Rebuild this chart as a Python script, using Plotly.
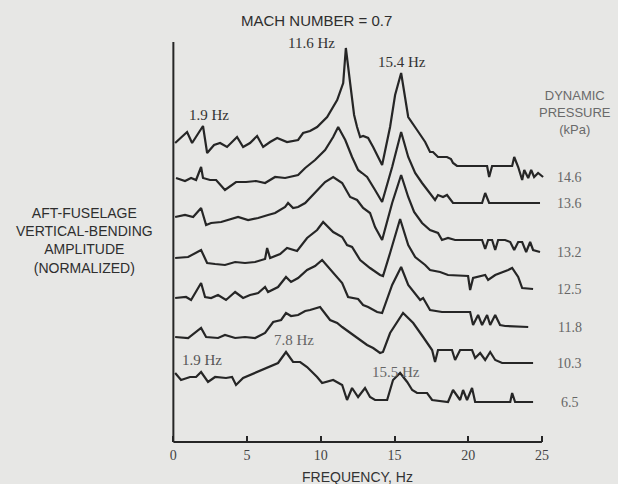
import plotly.graph_objects as go

# ---- data: spectra (frequency in Hz, normalized amplitude) ----
freq_14_6 = [0.12, 0.93, 1.27, 2.01, 2.29, 2.76, 3.17, 3.64, 4.32, 4.73, 5.2, 5.68, 6.09, 6.56, 7.04, 7.71, 8.46, 8.8, 9.27, 9.75,
             10.43, 11.11, 11.52, 11.7, 11.99, 12.26, 12.46, 12.67, 12.87, 13.21, 13.55, 14.16, 14.7, 15.04, 15.45, 15.93, 16.53, 17.08, 17.41, 17.61,
             17.95, 18.56, 18.83, 18.97, 19.24, 21.28, 21.42, 21.62, 22.98, 23.12, 23.39, 23.66, 23.8, 24.07, 24.27, 24.47, 24.74, 25.08]
amp_14_6 = [29, 40, 29, 46, 19, 27, 29, 25, 35, 25, 29, 36, 25, 30, 34, 30, 32, 39, 41, 45,
            55, 72, 89, 124, 89, 57, 45, 35, 36, 34, 25, 7, 45, 77, 99, 55, 42, 30, 20, 20,
            15, 15, 13, 9, 6, 6, -5, 6, 6, 15, 5, -8, 2, -6, 2, -5, -1, -5]

freq_13_6 = [0.18, 0.79, 1.2, 1.54, 1.88, 2.01, 2.49, 2.9, 3.5, 4.25, 4.93, 5.61, 6.22, 6.9, 7.58, 8.46, 8.94, 9.61, 10.29, 10.84,
             11.18, 11.66, 12.12, 12.53, 12.8, 13.14, 13.68, 14.16, 14.84, 15.45, 15.93, 16.4, 16.87, 17.41, 17.75, 17.95, 18.29, 18.56, 18.97, 20.94,
             21.15, 21.42, 24.87]
amp_13_6 = [29, 26, 29, 27, 40, 29, 27, 27, 17, 25, 25, 26, 24, 30, 29, 32, 39, 47, 57, 70,
            80, 67, 50, 37, 34, 30, 17, 5, 40, 75, 50, 34, 24, 14, 7, 12, 10, 12, 4, 4,
            14, 4, 4]

freq_13_2 = [0.12, 0.79, 1.34, 1.88, 2.22, 2.56, 3.24, 3.71, 4.39, 5.07, 5.75, 6.42, 6.9, 7.58, 7.78, 8.12, 8.46, 8.94, 9.61, 10.29,
             10.84, 11.45, 11.99, 12.46, 12.87, 13.34, 13.68, 14.16, 14.84, 15.45, 15.93, 16.33, 16.87, 17.41, 17.95, 18.22, 18.63, 19.11, 20.94, 21.15,
             21.35, 21.62, 21.83, 22.03, 22.5, 22.85, 23.12, 23.39, 23.66, 23.93, 24.2, 24.4, 24.87]
amp_13_2 = [35, 37, 35, 44, 27, 29, 30, 32, 35, 32, 34, 37, 39, 45, 49, 44, 45, 49, 59, 70,
            75, 69, 55, 52, 44, 39, 25, 12, 49, 77, 55, 40, 29, 22, 19, 12, 14, 12, 12, 3,
            12, 12, 2, 12, 12, 10, 2, 10, 10, 0, 10, 2, 0]

freq_12_5 = [0.12, 1.0, 1.88, 2.29, 2.83, 3.5, 4.19, 4.86, 5.54, 6.22, 6.36, 6.56, 7.24, 7.71, 8.39, 9.07, 9.75, 10.16, 10.84, 11.45,
             11.78, 12.12, 12.67, 13.34, 14.02, 14.22, 14.7, 15.38, 15.93, 16.4, 17.08, 17.41, 18.09, 18.63, 19.99, 20.13, 20.33, 21.15, 21.35, 21.83,
             22.71, 22.98, 23.39, 23.66, 24.4]
amp_12_5 = [34, 35, 42, 29, 28, 27, 30, 29, 30, 33, 44, 34, 38, 44, 41, 54, 62, 70, 60, 55,
            47, 45, 32, 24, 17, 16, 39, 73, 47, 35, 27, 22, 20, 17, 16, 2, 14, 17, 12, 17,
            22, 24, 15, 4, 3]

freq_11_8 = [0.12, 0.86, 1.2, 1.88, 2.15, 2.56, 3.03, 3.57, 4.19, 4.73, 5.2, 5.75, 6.22, 6.42, 7.1, 7.64, 7.98, 8.46, 9.07, 9.61,
             10.09, 10.97, 11.45, 11.85, 12.19, 12.53, 12.87, 13.21, 13.82, 14.16, 14.84, 15.45, 15.93, 16.53, 16.74, 16.94, 17.41, 18.22, 20.13, 20.33,
             20.67, 20.94, 21.28, 21.49, 21.83, 22.16, 22.5, 24.07]
amp_11_8 = [29, 30, 27, 44, 30, 29, 32, 27, 35, 29, 32, 34, 40, 35, 40, 50, 45, 49, 57, 61,
            67, 52, 44, 30, 29, 28, 22, 20, 15, 14, 42, 60, 42, 30, 27, 29, 17, 15, 15, 2,
            12, 2, 12, 2, 12, 2, 1, 0]

freq_10_3 = [0.12, 1.0, 1.88, 2.22, 3.03, 3.5, 4.19, 4.86, 5.54, 6.22, 6.77, 7.31, 7.64, 7.98, 8.46, 8.94, 9.27, 9.95, 10.63, 11.11,
             11.45, 12.19, 13.14, 13.55, 14.02, 14.22, 14.7, 15.58, 16.27, 16.94, 17.55, 17.75, 17.95, 18.9, 19.11, 19.45, 20.26, 20.47, 20.81, 21.15,
             21.49, 21.83, 22.3, 24.4]
amp_10_3 = [25, 24, 34, 25, 24, 27, 24, 25, 24, 29, 40, 42, 49, 46, 47, 51, 52, 55, 42, 39,
            35, 27, 17, 14, 9, 10, 29, 49, 39, 25, 12, 0, 12, 12, 2, 12, 12, 4, 9, 2,
            10, 2, -1, -1]

freq_6_5 = [0.12, 0.52, 1.13, 1.54, 1.88, 2.35, 2.83, 3.57, 3.98, 4.25, 4.73, 5.54, 6.42, 7.1, 7.64, 8.12, 8.6, 9.07, 9.75, 10.09,
            10.84, 11.45, 11.78, 12.12, 12.53, 13.0, 13.34, 13.68, 14.5, 14.9, 15.38, 15.86, 16.2, 16.53, 17.21, 17.55, 18.63, 18.97, 19.45, 19.65,
            19.92, 20.26, 20.47, 22.85, 22.98, 23.18, 24.4]
amp_6_5 = [29, 22, 25, 25, 30, 20, 25, 24, 25, 17, 24, 29, 34, 39, 50, 40, 40, 35, 25, 19,
           22, 17, 2, 14, 5, 14, 5, 2, 2, 22, 29, 20, 12, 9, 9, 2, 0, 12, 2, 12,
           2, 14, 0, 0, 9, 0, 0]

dynamic_pressure_labels = ["14.6", "13.6", "13.2", "12.5", "11.8", "10.3", "6.5"]
spectra_freq = [freq_14_6, freq_13_6, freq_13_2, freq_12_5, freq_11_8, freq_10_3, freq_6_5]
spectra_amp = [amp_14_6, amp_13_6, amp_13_2, amp_12_5, amp_11_8, amp_10_3, amp_6_5]

x_tick_values = [0, 5, 10, 15, 20, 25]

# waterfall stacking (layout, not data)
stack_offset = [270, 235, 190, 150, 115, 80, 40]

LINE = "#262626"
BG = "#e7e7e5"
SANS = "Liberation Sans, Arial, sans-serif"
SERIF = "Liberation Serif, Times New Roman, serif"

fig = go.Figure()
for lab, fr, am, off in zip(dynamic_pressure_labels, spectra_freq, spectra_amp, stack_offset):
    fig.add_trace(go.Scatter(x=fr, y=[v + off for v in am], mode="lines",
                             line=dict(color=LINE, width=2.2), hoverinfo="skip",
                             showlegend=False, name=lab))
    fig.add_annotation(x=26.9, y=off + am[-1], text=lab, showarrow=False,
                       font=dict(family=SERIF, size=14, color="#666666"),
                       xanchor="center", yanchor="middle")

def note(x, y, text, size, color, family, ref="data"):
    kw = dict(xref="paper", yref="paper") if ref == "paper" else {}
    fig.add_annotation(x=x, y=y, text=text, showarrow=False, xanchor="center", yanchor="middle",
                       font=dict(family=family, size=size, color=color), **kw)

note(9.68, 422, "MACH NUMBER = 0.7", 15, "#2e2e2e", SANS)
note(9.34, 399, "11.6 Hz", 15, "#333333", SERIF)
note(15.5, 380, "15.4 Hz", 15, "#333333", SERIF)
note(2.42, 327, "1.9 Hz", 15, "#333333", SERIF)
note(8.19, 102, "7.8 Hz", 15, "#666666", SERIF)
note(1.95, 82, "1.9 Hz", 15, "#555555", SERIF)
note(15.1, 70, "15.5 Hz", 15, "#666666", SERIF)
note(27.25, 330, "DYNAMIC<br>PRESSURE<br>(kPa)", 13, "#6a6a6a", SANS)
note(-0.1814, 0.463, "AFT-FUSELAGE<br>VERTICAL-BENDING<br>AMPLITUDE<br>(NORMALIZED)", 14, "#2e2e2e", SANS, ref="paper")
note(0.4226, -0.0671, "FREQUENCY, Hz", 14, "#333333", SANS, ref="paper")

fig.add_shape(type="line", x0=0, x1=x_tick_values[-1], y0=0, y1=0, xref="x", yref="y",
              line=dict(color=LINE, width=2))
fig.add_shape(type="line", x0=0, x1=0, y0=0, y1=400, xref="x", yref="y",
              line=dict(color=LINE, width=2))

fig.update_layout(
    width=618, height=484,
    margin=dict(l=166, r=0, t=0, b=37, autoexpand=False),
    paper_bgcolor=BG, plot_bgcolor=BG,
    xaxis=dict(range=[-0.5, 30.16], tickvals=x_tick_values, ticktext=[str(v) for v in x_tick_values],
               ticks="inside", ticklen=6, tickwidth=1.5, tickcolor=LINE, ticklabelstandoff=3,
               showgrid=False, zeroline=False, showline=False,
               anchor="free", position=5 / 447,
               tickfont=dict(family=SERIF, size=14, color="#444444")),
    yaxis=dict(range=[-5, 442], visible=False, showgrid=False, zeroline=False),
)

fig.write_html("out.html", config={"displayModeBar": False},
               post_script="document.body.style.margin='0';document.body.style.background='" + BG + "';")
